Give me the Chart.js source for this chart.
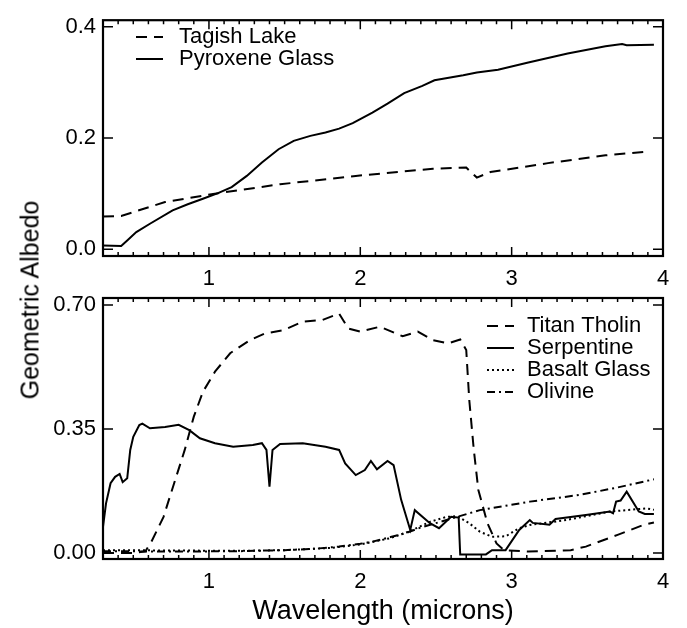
<!DOCTYPE html>
<html>
<head>
<meta charset="utf-8">
<script src="https://cdn.jsdelivr.net/npm/chart.js@4.4.1/dist/chart.umd.min.js"></script>
<style>
  body { margin: 0; background: #fff; width: 687px; height: 628px; position: relative; overflow: hidden;
         font-family: "Liberation Sans", Arial, sans-serif; }
  canvas { position: absolute; left: 0; }
  #topChart { top: 0; }
  #botChart { top: 270px; }
  #ytitle { position: absolute; left: 30px; top: 300px; transform: translate(-50%, -50%) rotate(-90deg);
            font-size: 25px; white-space: nowrap; color: #000; }
</style>
</head>
<body>
<canvas id="topChart" width="687" height="290"></canvas>
<canvas id="botChart" width="687" height="358"></canvas>
<div id="ytitle">Geometric Albedo</div>
<script>
// ---- data ----
const xTicks = [1, 2, 3, 4];
const yTicksTop = [0, 0.2, 0.4];
const yTicksBot = [0, 0.35, 0.70];

// top panel
const tagishX = [0.30, 0.42, 0.71, 1.06, 1.47, 1.97, 2.48, 2.70, 2.77, 2.86, 3.24, 3.62, 3.91];
const tagishY = [0.059, 0.060, 0.085, 0.101, 0.117, 0.132, 0.145, 0.147, 0.129, 0.139, 0.155, 0.169, 0.176];

const pyroX = [0.30, 0.42, 0.46, 0.52, 0.61, 0.76, 0.86, 0.96, 1.06, 1.15, 1.25, 1.35, 1.46, 1.56, 1.67, 1.77,
               1.86, 1.95, 2.08, 2.18, 2.29, 2.41, 2.49, 2.68, 2.77, 2.91, 3.11, 3.37, 3.62, 3.73, 3.76, 3.94];
const pyroY = [0.007, 0.006, 0.016, 0.031, 0.046, 0.070, 0.081, 0.091, 0.101, 0.112, 0.132, 0.156, 0.180, 0.195, 0.204, 0.210,
               0.217, 0.227, 0.246, 0.262, 0.281, 0.294, 0.304, 0.313, 0.318, 0.323, 0.336, 0.352, 0.365, 0.369, 0.367, 0.368];

// bottom panel
const tholinX = [0.30, 0.50, 0.58, 0.62, 0.70, 0.77, 0.84, 0.90, 0.96, 1.04, 1.14, 1.27, 1.37, 1.49, 1.62, 1.75, 1.86,
                 1.92, 2.00, 2.13, 2.28, 2.38, 2.48, 2.58, 2.66, 2.70, 2.72, 2.75, 2.78, 2.84, 2.90, 2.95, 3.11, 3.39,
                 3.49, 3.70, 3.87, 3.94];
const tholinY = [0.000, 0.000, 0.005, 0.032, 0.102, 0.197, 0.291, 0.385, 0.455, 0.512, 0.564, 0.601, 0.620, 0.629, 0.653,
                 0.658, 0.676, 0.634, 0.625, 0.639, 0.612, 0.625, 0.601, 0.592, 0.603, 0.573, 0.432, 0.291, 0.178, 0.084,
                 0.027, 0.008, 0.004, 0.008, 0.018, 0.051, 0.079, 0.086];

const serpX = [0.30, 0.32, 0.35, 0.38, 0.41, 0.43, 0.46, 0.48, 0.50, 0.54, 0.56, 0.61, 0.71, 0.80, 0.87, 0.94, 1.04, 1.16,
               1.29, 1.35, 1.38, 1.40, 1.42, 1.47, 1.62, 1.77, 1.86, 1.90, 1.97, 2.03, 2.07, 2.11, 2.18, 2.22, 2.27,
               2.33, 2.36, 2.46, 2.52, 2.60, 2.65, 2.66, 2.83, 2.87, 2.96, 3.05, 3.12, 3.14, 3.25, 3.29, 3.49, 3.65,
               3.67, 3.69, 3.72, 3.76, 3.84, 3.88, 3.94];
const serpY = [0.074, 0.140, 0.197, 0.215, 0.223, 0.200, 0.211, 0.291, 0.328, 0.361, 0.365, 0.352, 0.356, 0.362, 0.347,
               0.324, 0.310, 0.300, 0.305, 0.310, 0.291, 0.187, 0.291, 0.308, 0.310, 0.300, 0.291, 0.253, 0.220, 0.234,
               0.260, 0.236, 0.260, 0.248, 0.150, 0.065, 0.121, 0.084, 0.070, 0.102, 0.100, -0.004, -0.004, 0.008,
               0.008, 0.065, 0.093, 0.085, 0.080, 0.096, 0.107, 0.117, 0.112, 0.145, 0.148, 0.173, 0.117, 0.110, 0.110];

const basaltX = [0.30, 0.80, 1.20, 1.50, 1.80, 2.00, 2.20, 2.33, 2.46, 2.57, 2.64, 2.72, 2.79, 2.87, 2.96, 3.05, 3.12,
                 3.36, 3.65, 3.89, 3.94];
const basaltY = [0.008, 0.007, 0.006, 0.008, 0.014, 0.024, 0.042, 0.062, 0.088, 0.102, 0.104, 0.084, 0.060, 0.046, 0.047,
                 0.070, 0.079, 0.093, 0.117, 0.126, 0.122];

const olivX = [0.30, 0.80, 1.20, 1.50, 1.70, 1.86, 2.00, 2.08, 2.20, 2.30, 2.40, 2.57, 2.79, 3.12, 3.45, 3.70, 3.94];
const olivY = [0.005, 0.004, 0.005, 0.008, 0.012, 0.018, 0.026, 0.032, 0.045, 0.056, 0.072, 0.093, 0.121, 0.145, 0.164,
               0.185, 0.208];

const FONT = '"Liberation Sans", Arial, Helvetica, sans-serif';
const pts = (xs, ys) => xs.map((x, i) => ({ x: x, y: ys[i] }));

function lineSet(label, xs, ys, dash) {
    return {
        label: label,
        data: pts(xs, ys),
        borderColor: '#000',
        borderWidth: 2,
        borderDash: dash,
        pointRadius: 0,
        tension: 0,
        fill: false
    };
}

// frame with inward IDL-style ticks (minor every 0.1 on x)
const frameTicks = {
    id: 'frameTicks',
    afterDatasetsDraw(chart, args, opts) {
        const { ctx, chartArea: a, scales: { x, y } } = chart;
        ctx.save();
        ctx.strokeStyle = '#000';
        ctx.setLineDash([]);
        ctx.lineWidth = 1.5;
        ctx.beginPath();
        for (let i = Math.ceil(x.min * 10 - 1e-6); i <= Math.floor(x.max * 10 + 1e-6); i++) {
            const px = x.getPixelForValue(i / 10);
            const len = i % 10 === 0 ? 9 : 4;
            ctx.moveTo(px, a.bottom); ctx.lineTo(px, a.bottom - len);
            ctx.moveTo(px, a.top); ctx.lineTo(px, a.top + len);
        }
        opts.yMajor.forEach(v => {
            const py = y.getPixelForValue(v);
            ctx.moveTo(a.left, py); ctx.lineTo(a.left + 10, py);
            ctx.moveTo(a.right, py); ctx.lineTo(a.right - 10, py);
        });
        ctx.stroke();
        ctx.lineWidth = 2.2;
        ctx.strokeRect(a.left, a.top, a.right - a.left, a.bottom - a.top);
        ctx.restore();
    }
};

// legend drawn as line samples + text
const lineLegend = {
    id: 'lineLegend',
    afterDraw(chart, args, opts) {
        const ctx = chart.ctx;
        ctx.save();
        ctx.font = '22px ' + FONT;
        ctx.textBaseline = 'middle';
        ctx.fillStyle = '#000';
        chart.data.datasets.forEach((ds, i) => {
            const yy = opts.y + i * opts.step;
            ctx.strokeStyle = '#000';
            ctx.lineWidth = 2;
            ctx.setLineDash(ds.borderDash || []);
            ctx.beginPath();
            ctx.moveTo(opts.x, yy);
            ctx.lineTo(opts.x + opts.len, yy);
            ctx.stroke();
            ctx.setLineDash([]);
            ctx.fillText(ds.label, opts.x + opts.len + opts.gap, yy);
        });
        ctx.restore();
    }
};

function makeOptions(cfg) {
    return {
        responsive: false,
        animation: false,
        events: [],
        layout: { padding: { top: cfg.padTop, right: 24, left: 0, bottom: 0 } },
        plugins: {
            legend: { display: false },
            tooltip: { enabled: false },
            frameTicks: { yMajor: cfg.yTicks },
            lineLegend: cfg.legend
        },
        scales: {
            x: {
                type: 'linear',
                min: 0.3,
                max: 4.0,
                afterBuildTicks: s => { s.ticks = xTicks.map(v => ({ value: v })); },
                afterFit: s => { s.height = cfg.xHeight; },
                grid: { display: false, drawTicks: false },
                border: { display: false },
                ticks: { color: '#000', font: { family: FONT, size: 22 }, padding: 10, maxRotation: 0,
                         callback: v => String(v) },
                title: cfg.xTitle
            },
            y: {
                type: 'linear',
                min: cfg.yMin,
                max: cfg.yMax,
                afterBuildTicks: s => { s.ticks = cfg.yTicks.map(v => ({ value: v })); },
                afterFit: s => { s.width = 103; },
                grid: { display: false, drawTicks: false },
                border: { display: false },
                ticks: { color: '#000', font: { family: FONT, size: 22 }, padding: 7,
                         callback: v => v.toFixed(cfg.digits) }
            }
        }
    };
}

new Chart(document.getElementById('topChart'), {
    type: 'line',
    data: {
        datasets: [
            lineSet('Tagish Lake', tagishX, tagishY, [11, 7]),
            lineSet('Pyroxene Glass', pyroX, pyroY, [])
        ]
    },
    options: makeOptions({
        padTop: 12, xHeight: 34, yMin: -0.012, yMax: 0.412, yTicks: yTicksTop, digits: 1,
        legend: { x: 136, y: 37, step: 22, len: 27, gap: 16 },
        xTitle: { display: false }
    }),
    plugins: [frameTicks, lineLegend]
});

new Chart(document.getElementById('botChart'), {
    type: 'line',
    data: {
        datasets: [
            lineSet('Titan Tholin', tholinX, tholinY, [11, 7]),
            lineSet('Serpentine', serpX, serpY, []),
            lineSet('Basalt Glass', basaltX, basaltY, [2, 3]),
            lineSet('Olivine', olivX, olivY, [8, 4, 2, 4])
        ]
    },
    options: makeOptions({
        padTop: 28, xHeight: 69, yMin: -0.017, yMax: 0.72, yTicks: yTicksBot, digits: 2,
        legend: { x: 487, y: 56, step: 22, len: 27, gap: 13 },
        xTitle: { display: true, text: 'Wavelength (microns)', color: '#000',
                  font: { family: FONT, size: 27 }, padding: { top: 0, bottom: 0 } }
    }),
    plugins: [frameTicks, lineLegend]
});
</script>
</body>
</html>
